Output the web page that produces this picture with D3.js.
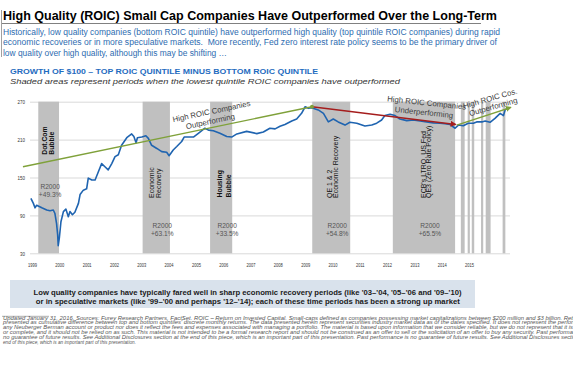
<!DOCTYPE html>
<html><head><meta charset="utf-8">
<script src="https://cdn.jsdelivr.net/npm/d3@7"></script>
<style>body{margin:0;background:#fff;} svg{display:block;font-family:"Liberation Sans",Arial,sans-serif;}</style>
</head><body><svg id="c" width="573" height="366"></svg>
<script>
// ---------------- DATA ----------------
const yearTicks = [1999,2000,2001,2002,2003,2004,2005,2006,2007,2008,2009,2010,2011,2012,2013,2014,2015];
const yTicks = [30,90,150,210,270];
const dates = [1998.96,1999.05,1999.11,1999.17,1999.36,1999.54,1999.66,1999.78,1999.84,1999.90,1999.94,1999.96,2000.00,2000.06,2000.15,2000.24,2000.33,2000.39,2000.48,2000.57,2000.70,2000.76,2000.88,2001.00,2001.06,2001.19,2001.31,2001.43,2001.55,2001.67,2001.79,2001.92,2002.04,2002.16,2002.28,2002.47,2002.65,2002.73,2002.81,2002.86,2003.02,2003.17,2003.26,2003.38,2003.57,2003.75,2003.93,2004.02,2004.17,2004.30,2004.48,2004.57,2004.91,2005.09,2005.33,2005.46,2005.64,2005.88,2006.13,2006.31,2006.50,2006.86,2007.23,2007.47,2007.71,2007.90,2008.08,2008.26,2008.51,2008.69,2008.87,2009.00,2009.12,2009.24,2009.48,2009.67,2009.85,2010.03,2010.21,2010.46,2010.64,2010.89,2011.19,2011.44,2011.62,2011.80,2011.92,2012.11,2012.29,2012.47,2012.72,2012.96,2013.21,2013.45,2013.69,2013.94,2014.12,2014.30,2014.49,2014.61,2014.79,2014.97,2015.16,2015.28,2015.47,2015.59,2015.77,2015.95,2016.14,2016.26,2016.32,2016.44];
const values = [117,109,102,106,102,98.5,97.5,98.5,93,77,59,42,54,80,96,100,88,96,91,95,109,123,130,132,149,146,146,159,172,167,162,172,183,186,201,213,219,215,205,213,214,216,212,201,196,191,190,184.5,193.5,199,207,214,214,220,228,225,224,220,215,214,219,223,219.5,222,228,227,231,234,239.5,242.6,251.6,262,259.5,260.5,257,251.6,238,242.6,238,233,237.4,236,231.5,233,236,241,248,250,248,242.6,240,241,239.5,238,236.5,236,235,234,228,233,232,236,236,238,238,239.5,237.4,243.7,251.6,248,257,260.5];
const shadeStart = [1999.23,2003.05,2005.52,2009.26,2012.21,2014.70,2014.95,2015.10,2015.44,2015.61,2016.23];
const shadeEnd   = [1999.99,2004.05,2006.33,2010.65,2014.49,2014.84,2015.03,2015.19,2015.52,2015.79,2016.33];
const periodLine1 = ["Dot.Com","Economic","Housing","QE 1 & 2","ECB's LTRO, US Fed"];
const periodLine2 = ["Bubble","Recovery","Bubble","Economic Recovery","QE3 (Zero Rate Policy)"];
const r2000Returns = ["+49.3%","+63.1%","+33.5%","+54.8%","+65.5%"];
const trendFromDate = [1998.67,2009.25,2014.55];
const trendFromValue = [167,262,233];
const trendToDate = [2009.25,2014.51,2016.53];
const trendToValue = [262,234,261];
const trendLine1 = ["High ROIC Companies","High ROIC Companies","High ROIC Cos."];
const trendLine2 = ["Outperforming","Underperforming","Outperforming"];

// ---------------- DRAW ----------------
const svg = d3.select("#c");
const x = d3.scaleLinear().domain([1998.927, 2016.5]).range([30, 510]);
const y = d3.scaleLinear().domain([30, 270]).range([253.3, 101.7]);
function fit(sel, len){ sel.attr("textLength", len).attr("lengthAdjust","spacingAndGlyphs"); return sel; }
function condense(sel, k){ sel.each(function(){ const w=this.getComputedTextLength(); d3.select(this).attr("textLength", w*k).attr("lengthAdjust","spacingAndGlyphs"); }); }

// Title
fit(svg.append("text").attr("x",3).attr("y",19.5).attr("font-size",12.5).attr("font-weight","bold").attr("fill","#000")
  .text("High Quality (ROIC) Small Cap Companies Have Outperformed Over the Long-Term"), 494);
svg.append("line").attr("x1",2).attr("x2",481).attr("y1",23.5).attr("y2",23.5).attr("stroke","#808080").attr("stroke-width",1);
svg.append("line").attr("x1",1.5).attr("x2",1.5).attr("y1",10).attr("y2",57).attr("stroke","#a0a0a0").attr("stroke-width",1);

const sub = ["Historically, low quality companies (bottom ROIC quintile) have outperformed high quality (top quintile ROIC companies) during rapid",
 "economic recoveries or in more speculative markets.  More recently, Fed zero interest rate policy seems to be the primary driver of",
 "low quality over high quality, although this may be shifting …"];
const subLen = [497,494,224];
sub.forEach((s,i)=>{
  fit(svg.append("text").attr("x",3).attr("y",35+i*10.3).attr("font-size",8.3).attr("fill","#2e6cb0").attr("xml:space","preserve").text(s), subLen[i]);
});
fit(svg.append("text").attr("x",10).attr("y",73.5).attr("font-size",7.6).attr("font-weight","bold").attr("fill","#1f6cc0")
  .text("GROWTH OF $100 – TOP ROIC QUINTILE MINUS BOTTOM ROIC QUINTILE"), 308);
fit(svg.append("text").attr("x",10).attr("y",84).attr("font-size",8).attr("font-style","italic").attr("fill","#333")
  .text("Shaded areas represent periods when the lowest quintile ROIC companies have outperformed"), 390);

// Y axis with gridlines
const ya = svg.append("g").attr("transform","translate(30,0)")
  .call(d3.axisLeft(y).tickValues(yTicks).tickSize(-480).tickPadding(5).tickFormat(d3.format("d")));
ya.select(".domain").remove();
ya.selectAll(".tick line").attr("stroke","#d9d9d9").attr("stroke-width",1);
ya.selectAll(".tick text").attr("font-size",5.6).attr("fill","#333").attr("font-family","Liberation Sans, Arial, sans-serif");
condense(ya.selectAll(".tick text"), 0.8);

// shading
svg.append("g").selectAll("rect").data(shadeStart).join("rect")
  .attr("x",(d)=>x(d)).attr("width",(d,i)=>x(shadeEnd[i])-x(d))
  .attr("y",y(270)).attr("height",y(30)-y(270)).attr("fill","#c0c0c0");

// X axis
const xa = svg.append("g").attr("transform",`translate(0,${y(30)})`)
  .call(d3.axisBottom(x).tickValues(yearTicks).tickSize(0).tickPadding(10).tickFormat(d3.format("d")));
xa.select(".domain").remove();
xa.selectAll(".tick text").attr("font-size",5.6).attr("fill","#333").attr("font-family","Liberation Sans, Arial, sans-serif");
condense(xa.selectAll(".tick text"), 0.72);

// period labels (rotated)
const pBold = [true,false,true,false,false];
const pOff1 = [-1.4,-2.7,0.8,0.9,1.8];
const pOff2 = [5.6,4.6,9.5,6.6,7.2];
const pBottom = [186,117.5,118.5,117.5,117.5];
periodLine1.forEach((t,i)=>{
  const cx = (x(shadeStart[i])+x(shadeEnd[i]))/2;
  const by = y(pBottom[i]);
  [[t,pOff1[i]],[periodLine2[i],pOff2[i]]].forEach(([s,o])=>{
    svg.append("text").attr("transform",`translate(${cx+o},${by}) rotate(-90)`)
      .attr("font-size", pBold[i]?6.8:7).attr("font-weight",pBold[i]?"bold":"normal").attr("fill","#111").text(s);
  });
  const lv = i===0 ? [132.5,119] : [69.5,57];
  const tx = cx + (i===0 ? 1.5 : 6);
  svg.append("text").attr("x",tx).attr("y",y(lv[0])).attr("text-anchor","middle").attr("font-size",6.6).attr("fill","#555").text("R2000");
  svg.append("text").attr("x",tx).attr("y",y(lv[1])).attr("text-anchor","middle").attr("font-size",6.6).attr("fill","#555").text(r2000Returns[i]);
});

// trend arrows
const defs = svg.append("defs");
const tColors = ["#7fa13a","#a51d1d","#7fa13a"];
tColors.forEach((c,i)=>{
  defs.append("marker").attr("id","ah"+i).attr("viewBox","0 0 6 6").attr("refX",5).attr("refY",3)
    .attr("markerWidth",6).attr("markerHeight",6).attr("markerUnits","userSpaceOnUse").attr("orient","auto")
    .append("path").attr("d","M0,0L6,3L0,6Z").attr("fill",c);
});
// main series line
svg.append("path").datum(dates.map((d,i)=>[d,values[i]]))
  .attr("d", d3.line().x(d=>x(d[0])).y(d=>y(d[1])))
  .attr("fill","none").attr("stroke","#1f64b0").attr("stroke-width",1.6).attr("stroke-linejoin","round");

trendFromDate.forEach((d,i)=>{
  const l = svg.append("line").attr("x1",x(d)).attr("y1",y(trendFromValue[i]))
    .attr("x2",x(trendToDate[i])).attr("y2",y(trendToValue[i])).attr("stroke",tColors[i]).attr("stroke-width",1.4);
  if(i>0) l.attr("marker-end",`url(#ah${i})`);
});
svg.append("circle").attr("cx",x(trendToDate[0])).attr("cy",y(trendToValue[0])).attr("r",2).attr("fill","#7fa13a");

// trend labels
const aPos1 = [[2005.59,250.5],[2013.44,264.0],[2015.80,271.1]];
const aPos2 = [[2005.55,234.7],[2013.34,248.9],[2015.91,257.8]];
const aRot = [-12,6,-16];
trendLine1.forEach((t,i)=>{
  [[t,aPos1[i]],[trendLine2[i],aPos2[i]]].forEach(([s,p])=>{
    svg.append("text").attr("transform",`translate(${x(p[0])},${y(p[1])}) rotate(${aRot[i]})`)
      .attr("text-anchor","middle").attr("font-size",7.8).attr("fill","#404040").text(s);
  });
});

// bottom note box
svg.append("rect").attr("x",10).attr("y",280).attr("width",465).attr("height",28).attr("fill","#d9e2ec");
fit(svg.append("text").attr("x",247.5).attr("y",295).attr("text-anchor","middle").attr("font-size",7.2).attr("font-weight","bold").attr("fill","#1a1a1a")
  .text("Low quality companies have typically fared well in sharp economic recovery periods (like '03–'04, '05–'06 and '09–'10)"), 428);
fit(svg.append("text").attr("x",247.8).attr("y",303.6).attr("text-anchor","middle").attr("font-size",7.2).attr("font-weight","bold").attr("fill","#1a1a1a")
  .text("or in speculative markets (like '99–'00 and perhaps '12–'14); each of these time periods has been a strong up market"), 424);

// footnote
const foot = [
 "Updated January 31, 2016. Sources: Furey Research Partners, FactSet. ROIC – Return on Invested Capital. Small-caps defined as companies possessing market capitalizations between $200 million and $3 billion. Returns are",
 "presented as cumulative difference between top and bottom quintiles' discrete monthly returns. The data presented herein represent securities industry market data as of the dates specified. It does not represent the performance of",
 "any Neuberger Berman account or product nor does it reflect the fees and expenses associated with managing a portfolio. The material is based upon information that we consider reliable, but we do not represent that it is accurate",
 "or complete, and it should not be relied on as such. This material is not intended to be a formal research report and should not be construed as an offer to sell or the solicitation of an offer to buy any security. Past performance is",
 "no guarantee of future results. See Additional Disclosures section at the end of this piece, which is an important part of this presentation. Past performance is no guarantee of future results. See Additional Disclosures section at the",
 "end of this piece, which is an important part of this presentation."];
const footCut = ["billion. Ret","the perfor","that it is","Past performa","Disclosures secti",null];
svg.append("line").attr("x1",2).attr("x2",49).attr("y1",316.3).attr("y2",316.3).attr("stroke","#777").attr("stroke-width",0.6);
foot.forEach((s,i)=>{
  const t = svg.append("text").attr("x",3).attr("y",319.5+i*4.8).attr("font-size",5).attr("font-style","italic").attr("fill","#555").text(s);
  const node = t.node();
  const full = node.getComputedTextLength();
  let target;
  if(footCut[i]){
    const n = s.lastIndexOf(footCut[i]) + footCut[i].length;
    const w = node.getSubStringLength(0, n);
    target = full * (570 / w);
  } else target = 133;
  t.attr("textLength", target).attr("lengthAdjust","spacingAndGlyphs");
});
</script></body></html>
